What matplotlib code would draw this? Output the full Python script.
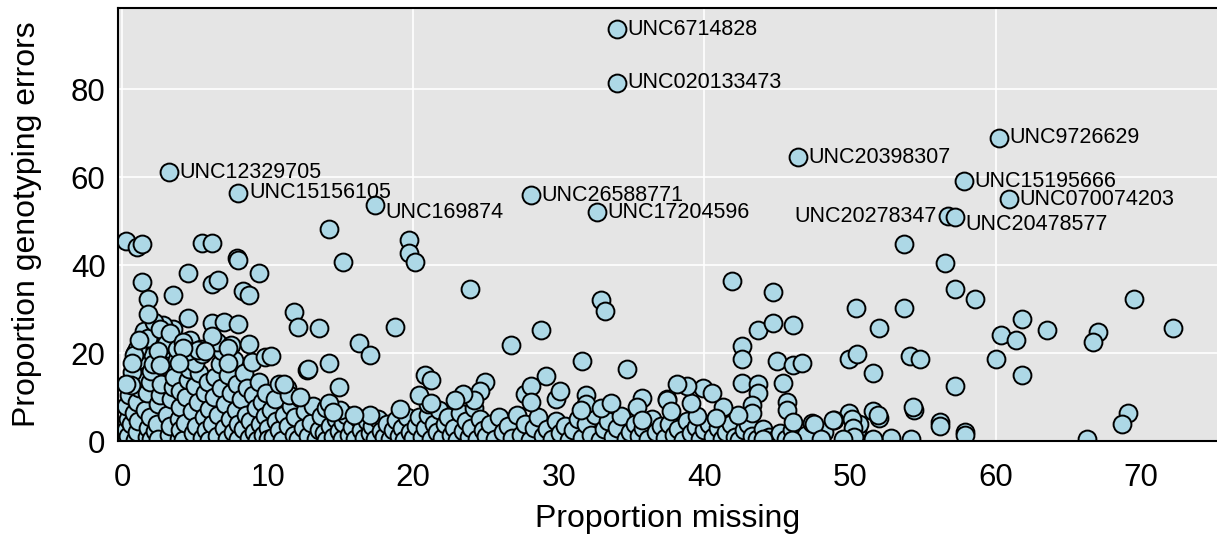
import matplotlib
matplotlib.use("Agg")
import matplotlib.pyplot as plt

plt.rcParams['font.family'] = ['Liberation Sans', 'DejaVu Sans']

# labelled markers
marker_names = ["UNC6714828", "UNC020133473", "UNC12329705", "UNC15156105", "UNC169874",
                "UNC26588771", "UNC17204596", "UNC20398307", "UNC9726629", "UNC15195666",
                "UNC070074203", "UNC20278347", "UNC20478577"]
marker_missing = [34.0, 34.0, 3.2, 8.0, 17.4, 28.1, 32.6, 46.4, 60.2, 57.8, 60.9, 56.7, 57.2]
marker_errors = [93.6, 81.4, 61.1, 56.4, 53.6, 55.9, 52.0, 64.5, 68.9, 59.1, 55.0, 51.1, 50.9]

# scattered markers (upper part of the cloud)
high_missing = [0.3, 1.0, 1.4, 5.5, 6.2, 7.9, 7.95, 1.35, 4.5, 9.4, 6.2, 6.6, 1.8, 3.5, 8.3, 8.7,
                1.8, 4.5, 6.2, 7.0, 8.0, 6.2, 11.8, 12.1, 12.7, 0.3, 11.1, 9.8, 10.2, 8.7, 7.3, 7.3,
                5.2, 5.7, 4.2, 3.9, 0.67, 2.1, 2.45, 2.6,
                14.2, 19.7, 19.7, 20.1, 15.2, 23.9, 13.5, 18.75, 16.3, 17.0, 12.8, 14.2, 14.9, 20.8,
                21.2, 24.9, 24.6, 24.2, 23.4, 22.9, 20.4, 21.2, 19.1, 14.2, 14.5, 12.2, 15.9,
                32.9, 33.2, 28.8, 26.7, 31.6, 34.7, 29.1, 27.7, 28.1, 28.1, 29.8, 30.1, 31.9, 31.9,
                31.5, 32.9, 33.6, 35.7, 35.4, 35.7, 37.4,
                41.9, 44.7, 50.4, 43.7, 44.7, 46.1, 42.6, 42.6, 45.0, 46.1, 46.7, 49.9, 50.5, 42.6,
                43.7, 43.7, 45.4, 45.7, 45.7, 46.1, 43.3, 43.3, 42.3, 41.3, 40.8, 39.5, 39.1, 39.9,
                40.5, 38.8, 38.1, 37.4, 37.7, 49.9, 48.9, 47.4, 48.2, 50.5, 50.6,
                53.7, 56.5, 57.2, 58.6, 69.5, 72.2, 61.8, 60.4, 61.4, 63.5, 67.0, 66.7, 53.7, 52.0,
                54.1, 54.8, 60.0, 61.8, 51.6, 57.2, 54.4, 51.6, 52.0, 50.1, 50.2, 50.3, 56.2, 56.2,
                57.9, 57.9, 52.8, 54.2, 51.6, 66.3, 69.1, 68.7, 47.5, 48.8, 51.9, 54.3, 44.0, 46.0,
                48.0, 49.5]
high_errors = [45.5, 44.2, 44.9, 45.1, 45.1, 41.7, 41.2, 36.2, 38.1, 38.3, 35.7, 36.7, 32.4, 33.3, 34.2, 33.2,
               28.9, 27.9, 26.9, 27.1, 26.6, 24.0, 29.4, 26.0, 16.1, 13.1, 13.0, 19.2, 19.3, 22.0, 21.1, 17.7,
               20.7, 20.5, 21.1, 17.8, 17.7, 17.5, 20.5, 17.3,
               48.1, 45.8, 42.8, 40.7, 40.8, 34.6, 25.7, 26.0, 22.3, 19.5, 16.3, 17.8, 12.3, 15.0,
               13.9, 13.5, 11.4, 9.3, 10.8, 9.3, 10.5, 8.6, 7.4, 8.7, 6.7, 10.1, 5.9,
               32.0, 29.5, 25.2, 21.8, 18.2, 16.4, 14.8, 10.8, 12.5, 8.9, 9.5, 11.4, 10.5, 8.5,
               7.0, 7.6, 8.6, 9.7, 7.8, 4.8, 9.5,
               36.4, 33.8, 30.2, 25.2, 26.9, 26.3, 21.7, 18.6, 18.2, 17.3, 17.7, 18.6, 19.8, 13.3,
               13.0, 11.0, 13.3, 8.9, 7.0, 4.4, 8.2, 6.4, 5.9, 7.8, 5.2, 5.7, 8.6, 12.0,
               11.0, 12.5, 13.0, 9.3, 6.9, 6.3, 4.8, 4.2, 2.1, 2.5, 4.0,
               44.7, 40.4, 34.5, 32.3, 32.4, 25.8, 27.7, 24.1, 23.0, 25.3, 24.8, 22.5, 30.3, 25.7,
               19.3, 18.7, 18.7, 15.0, 15.4, 12.5, 7.1, 6.8, 5.3, 5.0, 3.0, 1.0, 4.4, 3.5,
               2.1, 1.3, 0.7, 0.6, 0.6, 0.5, 6.4, 4.0, 4.0, 4.8, 5.9, 7.7, 0.4, 0.3,
               0.5, 0.4]

# dense band near zero
low_missing = [0.2, 0.3, 0.4, 0.3, 0.5, 0.4, 0.6, 0.8, 0.9, 1.0, 1.1, 1.0, 1.2, 1.3, 1.1, 1.4, 1.5, 1.6,
               1.7, 1.8, 1.9, 1.7, 1.9, 2.0, 2.1, 2.2, 2.0, 0.7, 0.9, 0.6,
               2.3, 2.4, 2.5, 2.6, 2.7, 2.8, 2.9, 3.0, 2.5, 3.1, 3.2, 3.3, 3.4, 3.5, 3.6, 3.7, 3.8, 3.9,
               3.5, 2.8, 3.9, 4.0, 4.0, 4.0,
               4.2, 4.3, 4.4, 4.5, 4.6, 4.7, 4.8, 4.9, 5.0, 5.1, 5.2, 5.3, 5.4, 5.5, 5.6, 5.7, 5.8, 5.9,
               6.0, 4.6, 5.0, 6.0, 5.5,
               6.2, 6.3, 6.4, 6.5, 6.6, 6.7, 6.8, 6.9, 7.0, 7.1, 7.2, 7.3, 7.4, 7.5, 7.6, 7.7, 7.8, 7.9,
               8.0, 8.0, 6.5, 7.5,
               8.2, 8.3, 8.4, 8.5, 8.6, 8.7, 8.8, 8.9, 9.0, 9.1, 9.2, 9.3, 9.4, 9.5, 9.6, 9.7, 9.8, 9.9,
               10.0, 10.0,
               10.2, 10.4, 10.5, 10.6, 10.8, 11.0, 11.1, 11.3, 11.4, 11.6, 11.8, 11.9, 12.1, 12.2, 12.4,
               12.6, 12.8, 13.0, 13.1, 13.3, 13.5, 13.7, 13.9, 14.0, 14.0, 10.8, 11.5,
               14.3, 14.5, 14.7, 14.9, 15.1, 15.2, 15.4, 15.6, 15.8, 16.0, 16.2, 16.4, 16.6, 16.8, 17.0,
               17.2, 17.4, 17.6, 17.8, 18.0, 18.2, 18.4, 18.6, 18.8, 19.0, 19.2, 19.4, 19.6, 19.8, 20.0,
               17.0, 15.0,
               20.2, 20.4, 20.6, 20.8, 21.0, 21.2, 21.4, 21.6, 21.8, 22.0, 22.2, 22.4, 22.6, 22.8, 23.0,
               23.2, 23.4, 23.6, 23.8, 24.0, 24.2, 24.4, 24.6, 24.8, 25.0, 25.3, 25.6, 25.9, 26.2, 26.5,
               26.8, 27.1, 27.4, 27.7, 28.0, 28.3, 28.6, 28.9, 29.2, 29.5, 29.8, 30.1, 30.4, 30.7, 21.0,
               31.0, 31.3, 31.6, 31.9, 32.2, 32.5, 32.8, 33.1, 33.4, 33.7, 34.0, 34.3, 34.6, 34.9, 35.2,
               35.5, 35.8, 36.1, 36.4, 36.7, 37.0, 37.3, 37.6, 37.9, 38.2, 38.5, 38.8, 39.1, 39.4, 39.7,
               40.0, 40.3, 40.6, 40.9, 41.2, 41.5, 41.8, 42.1, 42.4, 42.7, 43.0, 43.3, 43.6, 44.0, 44.4,
               44.8, 45.2, 45.6, 46.0, 46.5, 47.0,
               1.5, 1.8, 2.2, 2.6, 3.0, 3.3, 3.8, 4.2, 4.5, 1.0, 0.8, 1.2]
low_errors = [0.5, 2.5, 5.0, 8.0, 10.5, 1.2, 3.8, 6.5, 0.3, 2.0, 4.5, 9.0, 12.0, 15.0, 18.5, 21.5, 24.5, 7.0,
              1.0, 3.0, 5.5, 11.0, 13.5, 16.0, 19.5, 22.8, 0.4, 15.8, 20.0, 12.8,
              2.2, 4.0, 8.5, 10.5, 13.0, 24.0, 20.3, 17.0, 0.6, 6.0, 1.5, 3.4, 9.5, 12.2, 14.5, 22.0, 18.5, 0.5,
              25.5, 26.5, 5.0, 7.8, 11.5, 2.5,
              0.3, 4.2, 10.0, 14.0, 16.5, 23.0, 6.8, 1.8, 12.5, 3.5, 8.8, 15.5, 21.0, 0.8, 5.5, 11.0, 2.5, 13.5,
              7.2, 19.0, 17.8, 0.3, 19.8,
              3.8, 10.0, 14.5, 1.2, 6.0, 17.5, 12.0, 20.5, 3.0, 8.5, 0.5, 15.0, 5.0, 11.0, 2.0, 18.5, 7.0, 13.0,
              0.4, 4.0, 22.5, 21.8,
              9.5, 2.8, 15.5, 6.0, 12.0, 0.8, 4.5, 18.0, 10.5, 2.0, 7.5, 0.3, 13.5, 4.0, 8.8, 1.5, 5.8, 11.0,
              3.0, 0.5,
              7.0, 1.0, 9.5, 4.5, 2.5, 0.3, 6.0, 12.0, 3.5, 8.0, 1.5, 5.5, 0.4, 9.8, 3.0,
              6.8, 1.2, 4.2, 8.0, 0.6, 2.5, 5.8, 1.8, 7.5, 0.3, 13.0, 10.5,
              3.5, 1.0, 5.0, 2.2, 0.4, 4.2, 6.0, 1.5, 3.2, 0.5, 5.3, 2.5, 0.8, 4.5, 1.8,
              3.5, 0.4, 5.0, 2.2, 1.0, 3.8, 0.5, 2.5, 4.8, 1.2, 3.0, 0.3, 5.5, 2.0, 0.8,
              6.0, 7.0,
              3.5, 5.5, 1.0, 3.0, 6.0, 0.4, 4.0, 2.0, 7.0, 0.8, 3.8, 5.5, 1.5, 3.0, 0.3,
              6.5, 2.2, 4.5, 1.0, 3.0, 7.5, 0.5, 5.0, 2.5, 1.2, 3.8, 0.4, 5.5, 2.0, 3.5,
              0.8, 6.0, 1.5, 4.0, 0.3, 3.0, 5.5, 1.2, 2.8, 0.5, 4.5, 1.8, 3.5, 0.3, 8.5,
              2.5, 5.0, 0.8, 3.8, 1.5, 6.0, 0.3, 2.8, 4.5, 1.0, 3.0, 5.8, 0.5, 2.0, 4.0,
              1.2, 3.0, 0.4, 5.0, 2.0, 3.5, 0.8, 4.0, 1.5, 2.8, 0.3, 4.5, 1.8, 3.2, 0.6,
              2.5, 4.0, 1.0, 3.0, 0.4, 2.0, 3.8, 1.0, 0.3, 2.5, 4.0, 1.2, 0.5, 2.8, 1.0,
              0.3, 1.8, 0.6, 2.5, 0.4, 1.5,
              25.0, 23.5, 27.0, 25.5, 22.0, 24.5, 21.0, 22.5, 20.5, 21.0, 19.5, 23.0]

x_ticks = [0, 10, 20, 30, 40, 50, 60, 70]
y_ticks = [0, 20, 40, 60, 80]
x_grid = [0, 20, 40, 60]
y_grid = [20, 40, 60, 80]

fig = plt.figure(figsize=(12.17, 5.38), dpi=100)
ax = fig.add_axes([0.097, 0.180, 0.903, 0.805])
ax.set_facecolor('#E5E5E5')

for gx in x_grid:
    ax.axvline(gx, color='white', lw=1.2, zorder=0)
for gy in y_grid:
    ax.axhline(gy, color='white', lw=1.2, zorder=0)

all_x = low_missing + high_missing + marker_missing
all_y = low_errors + high_errors + marker_errors
ax.scatter(all_x, all_y, s=165, facecolor='#ADD8E6', edgecolor='black', linewidth=1.4, zorder=2)

for i, name in enumerate(marker_names):
    ha = 'left'
    dx, dy = 7.5, 0
    if name == "UNC20278347":
        ha = 'right'
        dx = -7.5
    if name in ("UNC20478577", "UNC169874"):
        dy = -5
    ax.annotate(name, (marker_missing[i], marker_errors[i]), xytext=(dx, dy),
                textcoords='offset points', ha=ha, va='center', fontsize=15.5, zorder=3)

ax.set_xlim(-0.27, 75.2)
ax.set_ylim(0, 98.4)
ax.set_xticks(x_ticks)
ax.set_yticks(y_ticks)
ax.tick_params(length=0, labelsize=22.5)
ax.tick_params(axis='x', pad=16)
ax.tick_params(axis='y', pad=9)

ax.spines['right'].set_visible(False)
for side in ['left', 'top', 'bottom']:
    ax.spines[side].set_linewidth(1.5)

ax.set_xlabel('Proportion missing', fontsize=23)
ax.set_ylabel('Proportion genotyping errors', fontsize=23)
ax.xaxis.set_label_coords(0.5, -0.145)
ax.yaxis.set_label_coords(-0.069, 0.5)

plt.savefig('out.png', dpi=100)
